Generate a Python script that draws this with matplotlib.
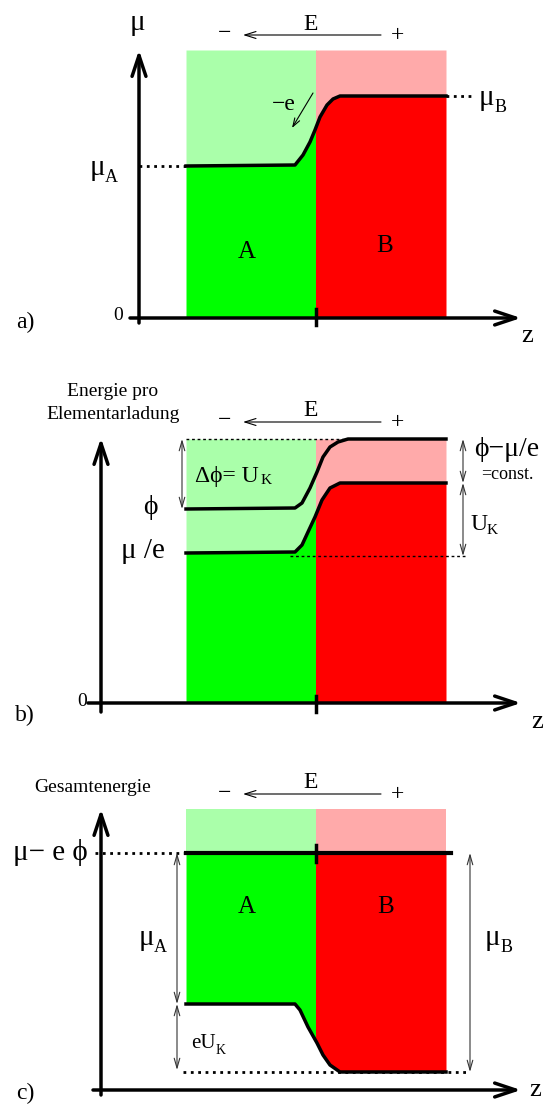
import numpy as np
import matplotlib.pyplot as plt
from matplotlib.patches import Rectangle

plt.rcParams['font.family'] = ['Liberation Serif', 'DejaVu Serif']

W, H = 553, 1107

# Materialgrenzen (z in Pixel-Einheiten)
z_A = [186, 316]
z_B = [316, 446]
gruen = ['#00ff00', '#aaffaa']
rot = ['#ff0000', '#ffaaaa']

# a) chemisches Potential mu(z)
za = [186, 295, 303, 310, 315, 320, 327, 333, 340, 446]
mu_a = [152, 153, 163, 176, 188, 201, 213, 219, 222, 222]
top_a = 268

# b) Energie pro Elementarladung
zb_phi = [186, 295, 302, 310, 317, 323, 330, 338, 348, 446]
phi_b = [194, 195, 200, 215, 231, 246, 256, 261, 264, 264]
zb_mu = [186, 295, 302, 308, 315, 322, 330, 340, 348, 446]
mu_b = [150, 151, 158, 171, 186, 203, 215, 220, 220, 220]
top_b = 264

# c) Gesamtenergie
zc = [186, 295, 300, 308, 317, 323, 330, 340, 446]
mu_c = [86, 86, 80, 63, 47, 35, 25, 18, 18]
niveau_c = 237
top_c = 281

fig = plt.figure(figsize=(W/100, H/100), dpi=100)


def panel(t, b, y0):
    ax = fig.add_axes([0, 1 - b/H, 1, (b - t)/H])
    ax.set_xlim(0, W)
    ax.set_ylim(y0 - b, y0 - t)
    ax.axis('off')
    return ax


def material(ax, z, lo, hi, grenzen, farbe):
    clip = Rectangle((grenzen[0], -500), grenzen[1] - grenzen[0], 2000,
                     transform=ax.transData)
    f1 = ax.fill_between(z, lo, hi[0], color=farbe[0], lw=0)
    f2 = ax.fill_between(z, hi[0], hi[1], color=farbe[1], lw=0)
    f1.set_clip_path(clip)
    f2.set_clip_path(clip)


def achse(ax, x0, y0, x1, y1):
    ax.annotate('', xy=(x1, y1), xytext=(x0, y0),
                arrowprops=dict(arrowstyle='->,head_length=1.5,head_width=0.5',
                                lw=2.5, color='k', shrinkA=0, shrinkB=0))


def feld(ax, y):
    ax.annotate('', xy=(243, y), xytext=(381, y),
                arrowprops=dict(arrowstyle='->,head_length=0.8,head_width=0.25',
                                lw=0.8, color='k', shrinkA=0, shrinkB=0))
    ax.text(311, y + 11, 'E', ha='center', va='center', fontsize=17)
    ax.text(225, y + 1, '\u2212', ha='center', va='center', fontsize=17)
    ax.text(397, y - 1, '+', ha='center', va='center', fontsize=17)


def doppel(ax, x, y0, y1):
    ax.annotate('', xy=(x, y1), xytext=(x, y0),
                arrowprops=dict(arrowstyle='<->,head_length=0.7,head_width=0.2',
                                lw=0.8, color='#333333', shrinkA=0, shrinkB=0))


def index(ax, x, y, haupt, sub, gr=21, kl=13, dx=14, dy=-8):
    ax.text(x, y, haupt, ha='center', va='center', fontsize=gr)
    ax.text(x + dx, y + dy, sub, ha='center', va='center', fontsize=kl)


# ---------------- a) ----------------
ax = panel(0, 369, 318)
material(ax, za, 0, [np.array(mu_a), top_a], z_A, gruen)
material(ax, za, 0, [np.array(mu_a), top_a], z_B, rot)
ax.plot(za, mu_a, color='k', lw=2.5)
ax.plot([139, z_A[0]], [mu_a[0]] * 2, ':', color='k', lw=2)
ax.plot([z_B[1], 474], [mu_a[-1]] * 2, ':', color='k', lw=2)
achse(ax, 139, -5, 139, top_a)
achse(ax, 130, 0, 521, 0)
ax.plot([316, 316], [-7, 9], color='k', lw=2.5)
feld(ax, 283)
ax.text(137, 295, '\u03bc', ha='center', va='center', fontsize=21)
index(ax, 97, 150, '\u03bc', 'A', dx=14, dy=-9)
index(ax, 486, 220, '\u03bc', 'B', dx=15, dy=-9)
ax.text(284, 214, '\u2212e', ha='center', va='center', fontsize=17)
ax.annotate('', xy=(292, 190), xytext=(313, 225),
            arrowprops=dict(arrowstyle='->,head_length=0.6,head_width=0.2',
                            lw=0.8, color='k', shrinkA=0, shrinkB=0))
ax.text(247, 66, 'A', ha='center', va='center', fontsize=18)
ax.text(385, 72, 'B', ha='center', va='center', fontsize=18)
ax.text(118, 2, '0', ha='center', va='center', fontsize=14)
ax.text(25, -4, 'a)', ha='center', va='center', fontsize=17)
ax.text(527, -18, 'z', ha='center', va='center', fontsize=19)

# ---------------- b) ----------------
ax = panel(369, 738, 703)
material(ax, zb_mu, 0, [np.array(mu_b), top_b], z_A, gruen)
material(ax, zb_mu, 0, [np.array(mu_b), top_b], z_B, rot)
ax.plot(zb_phi, phi_b, color='k', lw=2.5)
ax.plot(zb_mu, mu_b, color='k', lw=2.5)
ax.plot([z_A[0], 348], [top_b] * 2, color='k', lw=1, ls=(0, (2, 2)))
ax.plot([290, 465], [mu_b[0] - 3] * 2, color='k', lw=1, ls=(0, (2, 2)))
achse(ax, 101, -9, 101, top_b + 1)
achse(ax, 88, 0, 521, 0)
ax.plot([316, 316], [-9, 7], color='k', lw=2.5)
feld(ax, 281)
ax.text(113, 311, 'Energie pro', ha='center', va='center', fontsize=14)
ax.text(113, 288, 'Elementarladung', ha='center', va='center', fontsize=14)
doppel(ax, 182, top_b, phi_b[0])
ax.text(195, 226, '\u0394\u03d5= U', ha='left', va='center', fontsize=17)
ax.text(266, 222, 'K', ha='center', va='center', fontsize=11)
ax.text(150, 195, '\u03d5', ha='center', va='center', fontsize=20)
ax.text(143, 152, '\u03bc /e', ha='center', va='center', fontsize=21)
doppel(ax, 463, top_b, mu_b[-1])
doppel(ax, 463, mu_b[-1], mu_b[0] - 3)
ax.text(474, 253, '\u03d5\u2212\u03bc/e', ha='left', va='center', fontsize=20)
ax.text(481, 228, '=const.', ha='left', va='center', fontsize=13)
index(ax, 479, 178, 'U', 'K', gr=17, kl=11, dx=13, dy=-6)
ax.text(82, 2, '0', ha='center', va='center', fontsize=14)
ax.text(25, -12, 'b)', ha='center', va='center', fontsize=17)
ax.text(537, -19, 'z', ha='center', va='center', fontsize=19)

# ---------------- c) ----------------
ax = panel(738, 1107, 1090)
material(ax, zc, np.array(mu_c), [niveau_c, top_c], z_A, gruen)
material(ax, zc, np.array(mu_c), [niveau_c, top_c], z_B, rot)
ax.plot(zc, mu_c, color='k', lw=2.5)
ax.plot([z_A[0], 451], [niveau_c] * 2, color='k', lw=3)
ax.plot([95, z_A[0]], [niveau_c] * 2, ':', color='k', lw=2)
ax.plot([183, 470], [mu_c[-1]] * 2, ':', color='k', lw=2)
ax.plot([316, 316], [niveau_c - 9, niveau_c + 8], color='k', lw=2.5)
achse(ax, 101, -5, 101, top_c)
achse(ax, 93, 0, 521, 0)
feld(ax, 296)
ax.text(93, 303, 'Gesamtenergie', ha='center', va='center', fontsize=14)
ax.text(50, niveau_c, '\u03bc\u2212 e \u03d5', ha='center', va='center', fontsize=21)
doppel(ax, 177, niveau_c, mu_c[0])
doppel(ax, 177, mu_c[0], mu_c[-1] + 2)
doppel(ax, 470, niveau_c, mu_c[-1])
index(ax, 146, 152, '\u03bc', 'A', dx=14, dy=-9)
index(ax, 492, 152, '\u03bc', 'B', dx=15, dy=-9)
ax.text(191, 46, 'eU', ha='left', va='center', fontsize=15)
ax.text(221, 40, 'K', ha='center', va='center', fontsize=10)
ax.text(247, 183, 'A', ha='center', va='center', fontsize=18)
ax.text(386, 183, 'B', ha='center', va='center', fontsize=18)
ax.text(25, -3, 'c)', ha='center', va='center', fontsize=17)
ax.text(535, 0, 'z', ha='center', va='center', fontsize=19)

fig.savefig('out.png', dpi=100)
